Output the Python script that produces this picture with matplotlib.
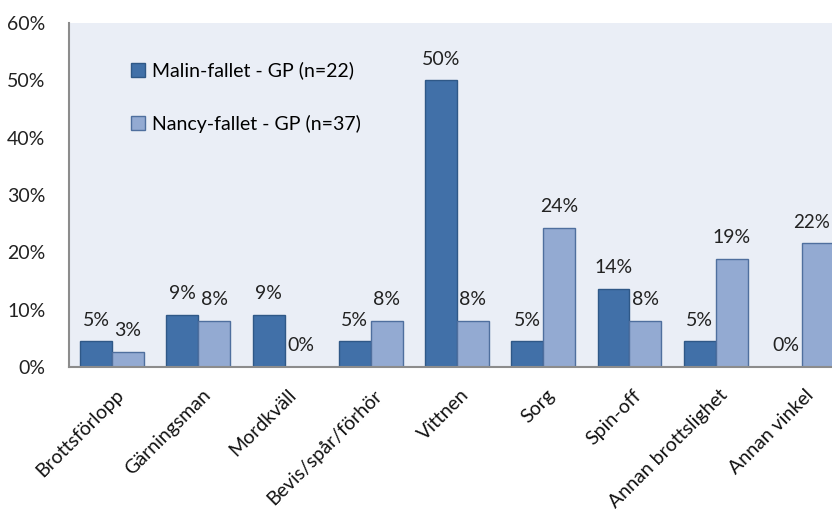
import numpy as np
import matplotlib
matplotlib.use("Agg")
import matplotlib.pyplot as plt
import matplotlib.transforms as mtransforms
from matplotlib.ticker import PercentFormatter

plt.rcParams["font.family"] = ["Lato", "DejaVu Sans"]

# ------------------------------------------------------------
# data (andel artiklar per vinkel)
# ------------------------------------------------------------
categories = [
    "Brottsförlopp", "Gärningsman", "Mordkväll", "Bevis/spår/förhör",
    "Vittnen", "Sorg", "Spin-off", "Annan brottslighet", "Annan vinkel",
]
malin = [4.5, 9.1, 9.1, 4.5, 50.0, 4.5, 13.6, 4.5, 0.0]
nancy = [2.7, 8.1, 0.0, 8.1, 8.1, 24.3, 8.1, 18.9, 21.6]
malin_labels = ["5%", "9%", "9%", "5%", "50%", "5%", "14%", "5%", "0%"]
nancy_labels = ["3%", "8%", "0%", "8%", "8%", "24%", "8%", "19%", "22%"]
series_names = ["Malin-fallet - GP (n=22)", "Nancy-fallet - GP (n=37)"]

# ------------------------------------------------------------
# figure
# ------------------------------------------------------------
W, H = 832, 518
fig = plt.figure(figsize=(W / 100, H / 100), dpi=100)

# plot area runs slightly past the right edge of the image
left, right, top, bottom = 69, 845, 23, 367
ax = fig.add_axes([left / W, 1 - bottom / H, (right - left) / W, (bottom - top) / H])
ax.set_facecolor("#eaeef6")

x = np.arange(len(categories))
bw = 0.37

c_dark = "#4170a8"
c_light = "#93aad2"
b1 = ax.bar(x - bw / 2, malin, bw, color=c_dark, edgecolor="#2f5887", lw=1.0,
            label=series_names[0])
b2 = ax.bar(x + bw / 2, nancy, bw, color=c_light, edgecolor="#4f6f9e", lw=1.0,
            label=series_names[1])

for bars, labs in [(b1, malin_labels), (b2, nancy_labels)]:
    for rect, lab in zip(bars, labs):
        xc = rect.get_x() + rect.get_width() / 2
        fs = 14
        if lab == "22%":
            # last label sits against the image edge
            xc -= 0.07
            fs = 13.5
        ax.text(xc, rect.get_height() + 2.2, lab,
                ha="center", va="bottom", fontsize=fs, color="#222222")

ax.set_xlim(-0.5, len(categories) - 0.5)
ax.set_ylim(0, 60)
ax.set_yticks(range(0, 61, 10))
ax.yaxis.set_major_formatter(PercentFormatter(decimals=0))
ax.tick_params(axis="y", length=0, pad=17, labelsize=14, labelcolor="#222222")
ax.tick_params(axis="x", length=0, pad=14, labelsize=14, labelcolor="#111111")
ax.set_xticks(x)
ax.set_xticklabels(categories, rotation=45, ha="right", rotation_mode="anchor")
shift = mtransforms.ScaledTranslation(3 / 100, 0, fig.dpi_scale_trans)
for lab in ax.get_xticklabels():
    lab.set_transform(lab.get_transform() + shift)

for s in ["top", "right"]:
    ax.spines[s].set_visible(False)
for s in ["left", "bottom"]:
    ax.spines[s].set_color("#8c8c8c")
    ax.spines[s].set_linewidth(1.5)

ax.legend(loc="upper left", bbox_to_anchor=(0.07, 0.91), frameon=False,
          fontsize=14, handlelength=0.7, handleheight=0.7, handletextpad=0.4,
          labelspacing=1.8, borderaxespad=0)

fig.savefig("out.png", dpi=100)
